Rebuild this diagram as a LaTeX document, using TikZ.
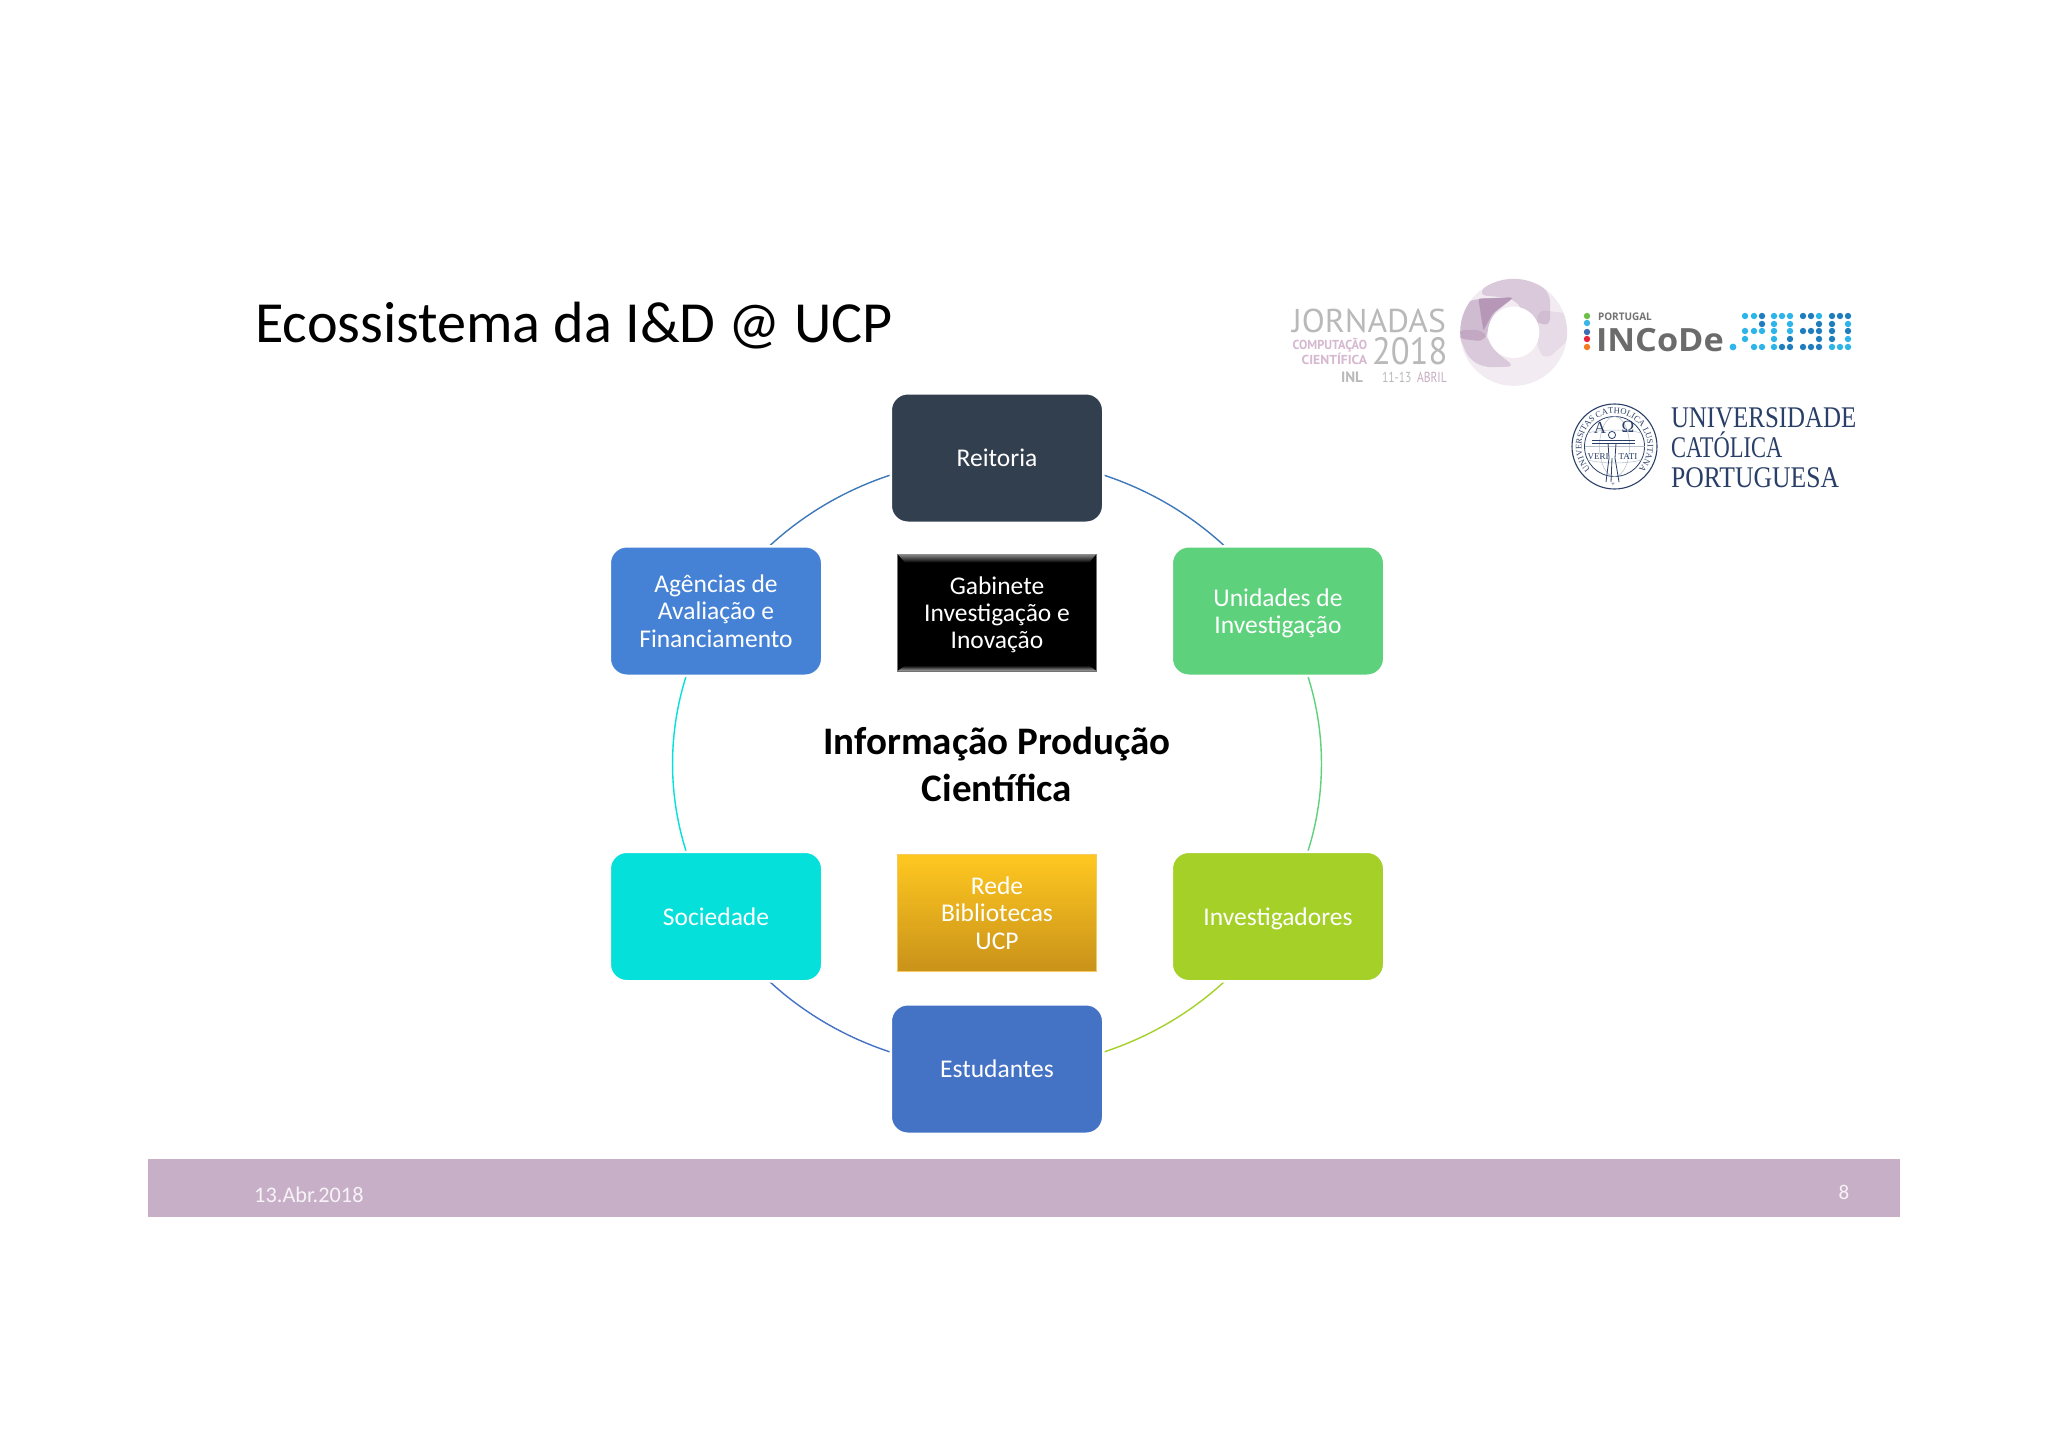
\documentclass[tikz,border=0pt]{standalone}
\usepackage{fontspec}
\setmainfont{Carlito}
\newfontfamily\dinfont{PT Sans}
\newfontfamily\ucpfont{Liberation Serif}
\newfontfamily\incfont{Open Sans}
\usetikzlibrary{backgrounds,calc,decorations.text}
\newcommand{\logotxt}[3]{{\fontsize{#1}{#1}\selectfont\addfontfeature{FakeStretch=#2}#3}}
\newcommand{\tsa}{\rule{0pt}{23.8pt}}
\newcommand{\tsb}{\rule[-6pt]{0pt}{6pt}}
\definecolor{cReit}{HTML}{323F4F}
\definecolor{cAgen}{HTML}{4582D5}
\definecolor{cUnid}{HTML}{5DD17C}
\definecolor{cSoci}{HTML}{05E0DA}
\definecolor{cInve}{HTML}{A5D028}
\definecolor{cEstu}{HTML}{4472C4}
\definecolor{cArcB}{HTML}{3F78B8}
\definecolor{cGoldA}{HTML}{FFC820}
\definecolor{cGoldB}{HTML}{C9921A}
\definecolor{cGoldC}{HTML}{F5C860}
\definecolor{cBar}{HTML}{C7AFC7}
\definecolor{cNavy}{HTML}{2A3F68}
\definecolor{cLogoGray}{HTML}{B9B9B9}
\definecolor{cLogoPink}{HTML}{D6B8D0}
\definecolor{cPetal}{HTML}{A27AA4}
\definecolor{cDotL}{HTML}{2DB5E9}
\definecolor{cDotD}{HTML}{1F7DBE}
\tikzset{
  smart/.style={draw=white,line width=2.5pt,minimum width=212.5pt,minimum height=129.5pt,
    rounded corners=17pt,inner sep=0pt,align=center,text=white,
    font=\fontsize{25.5}{27.4}\selectfont},
  centrebox/.style={minimum width=199pt,minimum height=117pt,inner sep=0pt,align=center,
    text=white,font=\fontsize{25.5}{27.4}\selectfont},
  arcl/.style={line width=1.4pt},
  logo/.style={inner sep=0pt,outer sep=0pt,anchor=base west},
  logoe/.style={inner sep=0pt,outer sep=0pt,anchor=base east},
  blade/.style={cPetal,rounded corners=8pt},
}
\begin{document}
\begin{tikzpicture}[x=1pt,y=-1pt]
\useasboundingbox (0,0) rectangle (2048,1447);

% footer and title
\fill[cBar] (148,1159) rectangle (1900,1217);
\node[anchor=base west,inner sep=0pt,font=\fontsize{58.2}{58.2}\selectfont,text=black] (title) at (255,342) {Ecossistema da I\&D @ UCP};
\node[anchor=base west,inner sep=0pt,font=\fontsize{22.3}{22.3}\selectfont,text=white!85!cBar] (date) at (254,1202) {13.Abr.2018};
\node[anchor=base,inner sep=0pt,font=\fontsize{21}{21}\selectfont,text=white!85!cBar] (page) at (1844,1199) {8};

% cycle nodes
\node[smart,fill=cReit] (reit) at (997,458) {\tsa\tsb Reitoria};
\node[smart,fill=cUnid] (unid) at (1278,611) {\tsa Unidades de\\Investigação\tsb};
\node[smart,fill=cInve] (inve) at (1278,916.5) {\tsa\tsb Investigadores};
\node[smart,fill=cEstu] (estu) at (997,1069) {\tsa\tsb Estudantes};
\node[smart,fill=cSoci] (soci) at (716,916.5) {\tsa\tsb Sociedade};
\node[smart,fill=cAgen] (agen) at (716,611) {\tsa Agências de\\Avaliação e\\Financiamento\tsb};

% cycle arcs behind the nodes
\begin{scope}[on background layer]
\fill[white] (0,0) rectangle (2048,1447);
\draw[arcl,draw=cArcB] (reit.center) .. controls +(-115.9,0) and +(57.95,-94.3) .. (agen.center);
\draw[arcl,draw=cSoci] (agen.center) .. controls +(-57.95,94.3) and +(-57.95,-94.3) .. (soci.center);
\draw[arcl,draw=cEstu] (soci.center) .. controls +(57.95,94.3) and +(-115.9,0) .. (estu.center);
\draw[arcl,draw=cInve] (estu.center) .. controls +(115.9,0) and +(-57.95,94.3) .. (inve.center);
\draw[arcl,draw=cUnid] (inve.center) .. controls +(57.95,-94.3) and +(57.95,94.3) .. (unid.center);
\draw[arcl,draw=cArcB] (unid.center) .. controls +(-57.95,-94.3) and +(115.9,0) .. (reit.center);
\end{scope}

% central boxes
\node[centrebox,fill=black,draw=black!55,line width=0.8pt] (gab) at (997,612.5) {\tsa Gabinete\\Investigação e\\Inovação\tsb};
\shade[top color=black!45,bottom color=black] ($(gab.north west)+(0.5,0.5)$) -- ($(gab.north east)+(-0.5,0.5)$) -- ($(gab.north east)+(-8,9)$) -- ($(gab.north west)+(8,9)$) -- cycle;
\shade[top color=black,bottom color=black!35] ($(gab.south west)+(8,-6)$) -- ($(gab.south east)+(-8,-6)$) -- ($(gab.south east)+(-0.5,-0.5)$) -- ($(gab.south west)+(0.5,-0.5)$) -- cycle;
\node[centrebox,top color=cGoldA,bottom color=cGoldB,draw=cGoldC,line width=1.6pt] (rede) at (997,913) {\tsa Rede\\Bibliotecas\\UCP\tsb};
\node[inner sep=0pt,align=center,text=black,font=\bfseries\fontsize{39}{47}\selectfont] (info) at (997,764) {Informação Produção\\Científica};

% Jornadas logo (typed in the units of a 3x crop)
\begin{scope}[shift={(1450,270)},x=0.3333pt,y=-0.3333pt]
\fill[cPetal!14] (191,187) circle[radius=53.5pt];
\clip (191,187) circle[radius=53.5pt];
\fill[blade,opacity=.3] (85,75) -- (130,20) -- (240,22) -- (300,70) -- (300,170) -- (240,150) -- (190,85) -- cycle;
\fill[blade,opacity=.42] (20,130) -- (55,90) -- (195,80) -- (125,135) -- (105,215) -- (20,205) -- cycle;
\fill[cPetal,opacity=.55,rounded corners=2pt] (85,85) -- (190,83) -- (128,130) -- (100,182) -- cycle;
\fill[blade,opacity=.3] (20,180) -- (100,180) -- (130,240) -- (195,290) -- (100,292) -- (55,265) -- cycle;
\fill[blade,opacity=.14] (262,120) -- (360,130) -- (360,205) -- (290,270) -- (262,240) -- cycle;
\fill[white] (191,187) circle[radius=25.7pt];
\end{scope}
\node[logo,text=cLogoGray] (jorn) at (1292,332) {\dinfont\logotxt{33}{1.02}{JORNADAS}};
\node[logo,text=cLogoGray] (y18) at (1372,364) {\dinfont\logotxt{38}{0.91}{2018}};
\node[logoe,text=cLogoPink] (comp) at (1367,349.5) {\dinfont\bfseries\logotxt{13}{0.95}{COMPUTAÇÃO}};
\node[logoe,text=cLogoPink] (cien) at (1367,364) {\dinfont\bfseries\logotxt{13}{1.05}{CIENTÍFICA}};
\node[logo,text=cLogoGray] (inl) at (1341,382) {\dinfont\bfseries\logotxt{15}{1}{INL}};
\node[logo,text=cLogoGray] (dias) at (1382,382) {\dinfont\logotxt{14.5}{0.8}{11-13}};
\node[logo,text=cLogoPink!80!gray] (abril) at (1417,382) {\dinfont\logotxt{14.5}{0.8}{ABRIL}};

% INCoDe logo
\foreach \y/\c in {316/6CC04A,323/3AB7E8,332/3F6EB5,339/E8243C,347/F47B20}{
  \definecolor{tmpc}{HTML}{\c}
  \fill[tmpc] (1587,\y) circle[radius=3.2];
}
\node[logo,text=black!55] (port) at (1598,320.5) {\incfont\bfseries\logotxt{10.5}{0.95}{PORTUGAL}};
\node[logo,text=black!58] (inco) at (1596,352) {\incfont\bfseries\logotxt{32}{1.07}{INCoDe}};
\fill[cDotL] (1733,347) circle[radius=3.4];
% dots of 2030
\foreach \x/\y/\k in {
 1745/316/L,1754/316/L,1762/316/D,1762/324/D,1745/331/L,1754/331/L,1762/331/L,1745/339/L,1754/347/L,1762/347/L,
 1774/316/L,1782/316/L,1790/316/L,1774/324/L,1790/324/L,1774/331/L,1790/331/L,1774/339/L,1790/339/D,1774/347/L,1782/347/D,1790/347/D,
 1803/316/D,1811/316/D,1819/316/L,1819/324/D,1803/331/D,1811/331/D,1819/331/D,1819/339/D,1803/347/D,1811/347/D,1819/347/D,
 1832/316/D,1840/316/D,1848/316/D,1832/324/D,1848/324/L,1832/331/D,1848/331/D,1832/339/D,1848/339/L,1832/347/L,1840/347/L,1848/347/L}{
  \fill[cDot\k] (\x,\y) circle[radius=3.2];
}

% UCP logo
\draw[cNavy,line width=1.1pt] (1614.5,446.5) circle[radius=42.5];
\draw[cNavy,line width=.8pt] (1614.5,446.5) circle[radius=30];
\begin{scope}[shift={(1614.5,446.5)},x=1pt,y=1pt]
\path[decorate,decoration={text along path,text align=center,
   text={|\ucpfont\fontsize{8.6}{8.6}\selectfont\color{cNavy}|UNIVERSITAS CATHOLICA LUSITANA}}]
   (250:33pt) arc[start angle=250,end angle=-70,radius=33pt];
\end{scope}
\begin{scope}[cNavy!35,line width=.5pt]
\draw (1614.5,446.5) ellipse[x radius=15,y radius=30];
\draw (1584.5,446.5) -- (1644.5,446.5);
\draw (1587,433) .. controls (1605,429) and (1624,429) .. (1642,433);
\draw (1587,460) .. controls (1605,464) and (1624,464) .. (1642,460);
\end{scope}
\begin{scope}[cNavy,line width=.8pt]
\draw (1612,435) circle[radius=3.6];
\draw (1592,440) -- (1635,440) (1592,443) -- (1635,443);
\draw (1608,443) -- (1609,458) -- (1606,482) (1616,443) -- (1615,458) -- (1619,482) (1612,458) -- (1611,482);
\end{scope}
\node[inner sep=0pt,text=cNavy,font=\ucpfont\fontsize{17}{17}\selectfont] (alpha) at (1600,428) {A};
\node[inner sep=0pt,text=cNavy,font=\ucpfont\fontsize{17}{17}\selectfont] (omega) at (1628,427) {Ω};
\node[inner sep=0pt,text=cNavy,font=\ucpfont\fontsize{9}{9}\selectfont] (veri) at (1598,457) {VERI};
\node[inner sep=0pt,text=cNavy,font=\ucpfont\fontsize{9}{9}\selectfont] (tati) at (1628,457) {TATI};
\node[inner sep=0pt,text=cNavy,font=\ucpfont\fontsize{7}{7}\selectfont] (crux) at (1613,485) {+};
\node[logo,text=cNavy] (ucpa) at (1671,427.5) {\ucpfont\logotxt{30}{0.83}{UNIVERSIDADE}};
\node[logo,text=cNavy] (ucpb) at (1671,457) {\ucpfont\logotxt{30}{0.75}{CATÓLICA}};
\node[logo,text=cNavy] (ucpc) at (1671,487) {\ucpfont\logotxt{30}{0.855}{PORTUGUESA}};
\end{tikzpicture}
\end{document}
